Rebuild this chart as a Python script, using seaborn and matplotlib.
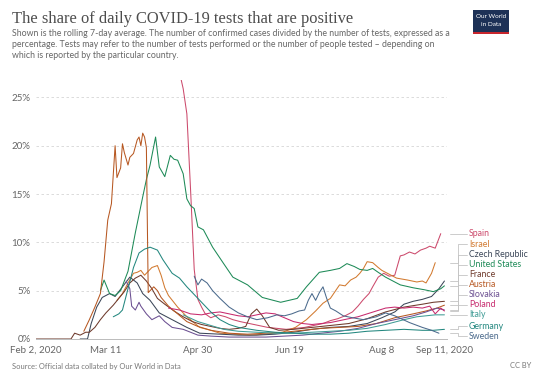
import numpy as np
import pandas as pd
import seaborn as sns
import matplotlib.pyplot as plt
import matplotlib.transforms as mtransforms
from matplotlib.patches import Rectangle

start = pd.Timestamp("2020-02-02")

# share of daily tests that are positive (%)
# days = days since Feb 2, 2020
spain_days = [78, 80, 82, 84, 86, 88, 90, 92, 95, 99, 103, 107, 111, 116, 121, 126, 131, 136, 141, 146,
              151, 156, 160, 164, 168, 172, 175, 178, 181, 183, 186, 189, 192, 195, 198, 200, 203, 206, 209, 212,
              214, 217, 220]
spain_vals = [27.6, 25.9, 23.3, 15.5, 7.2, 4.1, 3.3, 2.6, 2.2, 2.5, 2.3, 2.0, 1.8, 1.6, 1.4, 1.2, 1.1, 1.0, 1.1, 1.2,
              1.4, 1.6, 1.9, 2.1, 2.4, 2.8, 3.4, 4.1, 4.7, 5.4, 6.4, 6.8, 6.5, 6.6, 8.6, 8.7, 9.0, 8.8, 9.2, 9.4,
              9.6, 9.4, 10.9]

israel_days = [44, 47, 50, 53, 55, 57, 59, 61, 63, 66, 68, 70, 72, 77, 82, 89, 95, 100, 108, 116,
               125, 134, 141, 147, 152, 156, 160, 165, 168, 171, 174, 176, 178, 180, 183, 186, 188, 191, 196, 202,
               207, 210, 212, 215, 217]
israel_vals = [4.0, 4.7, 5.8, 6.8, 6.9, 7.1, 6.6, 7.0, 7.4, 7.6, 6.6, 5.3, 4.5, 3.3, 2.3, 1.2, 0.9, 0.6, 0.5, 0.4,
               0.5, 0.7, 1.2, 2.0, 2.9, 3.7, 4.2, 5.6, 5.5, 6.1, 6.4, 6.8, 7.3, 8.0, 7.9, 7.4, 7.1, 6.8, 6.3, 6.1,
               5.9, 6.0, 5.8, 6.8, 7.9]

czech_days = [24, 28, 30, 33, 36, 40, 43, 47, 51, 55, 58, 62, 67, 74, 82, 89, 100, 110, 120, 130,
              140, 150, 160, 170, 180, 188, 195, 200, 205, 210, 215, 219, 222]
czech_vals = [0.0, 0.0, 1.6, 3.3, 4.3, 4.7, 4.4, 5.4, 6.4, 5.8, 4.7, 4.0, 2.7, 2.0, 1.2, 0.6, 0.5, 0.4, 0.4, 0.5,
              0.7, 1.0, 1.2, 1.3, 1.6, 2.2, 2.8, 3.6, 3.9, 4.1, 4.4, 5.2, 6.0]

us_days = [35, 37, 40, 43, 46, 50, 54, 58, 60, 62, 65, 67, 70, 73, 75, 77, 80, 82, 84, 86,
           88, 91, 96, 102, 107, 115, 123, 133, 142, 147, 154, 160, 165, 169, 173, 176, 180, 183, 186, 190,
           198, 205, 211, 216, 220, 222]
us_vals = [5.0, 6.1, 4.7, 4.5, 5.0, 7.0, 11.0, 14.7, 16.5, 18.0, 20.9, 17.8, 16.8, 19.0, 18.6, 18.5, 17.1, 14.5, 13.8, 13.5,
           11.6, 11.3, 9.5, 7.8, 6.4, 5.6, 4.3, 3.8, 4.2, 5.4, 6.9, 7.1, 7.3, 7.8, 7.5, 7.2, 7.1, 7.3, 6.9, 6.4,
           5.6, 5.3, 5.1, 4.9, 5.2, 5.5]

france_days = [0, 19, 21, 24, 27, 29, 32, 35, 38, 42, 45, 48, 51, 54, 57, 60, 63, 66, 70, 75,
               80, 85, 90, 95, 100, 105, 110, 114, 117, 120, 123, 127, 132, 140, 150, 160, 170, 180, 190, 200,
               210, 216, 222]
france_vals = [0.0, 0.0, 0.6, 0.4, 0.7, 0.7, 1.2, 2.0, 2.7, 3.5, 4.2, 4.9, 5.8, 6.3, 6.6, 6.0, 5.2, 4.2, 3.6, 2.9,
               2.3, 1.8, 1.5, 1.3, 1.1, 1.0, 1.1, 1.3, 2.6, 3.1, 2.4, 1.2, 0.9, 1.0, 1.2, 1.4, 1.6, 2.1, 2.8, 3.3,
               3.6, 3.8, 3.9]

austria_days = [26, 29, 32, 35, 37, 39, 41, 43, 44, 46, 47, 48, 50, 51, 53, 55, 56, 57, 58, 59,
                60, 61, 64, 66, 68, 72, 77, 82, 88, 95, 105, 115, 125, 135, 145, 155, 165, 175, 185, 195,
                205, 212, 218, 222]
austria_vals = [0.8, 2.0, 3.3, 4.7, 8.0, 12.3, 14.0, 20.0, 16.7, 17.7, 20.2, 19.3, 18.0, 18.8, 19.2, 20.6, 20.9, 20.0, 21.3, 20.9,
                19.8, 4.8, 5.4, 5.0, 4.3, 3.4, 2.6, 1.8, 1.3, 0.9, 0.6, 0.5, 0.6, 0.7, 0.9, 1.1, 1.2, 1.3, 1.6, 2.2,
                2.6, 2.9, 3.2, 3.5]

slovakia_days = [49, 51, 52, 54, 56, 57, 60, 63, 67, 70, 74, 80, 88, 95, 105, 115, 125, 135, 145, 155,
                 165, 175, 185, 195, 205, 212, 218, 222]
slovakia_vals = [6.0, 5.2, 3.4, 3.0, 3.8, 3.4, 2.6, 2.0, 2.4, 1.8, 1.2, 1.0, 0.4, 0.3, 0.2, 0.2, 0.2, 0.3, 0.4, 0.6,
                 0.8, 1.1, 1.6, 2.0, 2.4, 2.8, 3.2, 3.0]

poland_days = [72, 78, 84, 90, 95, 100, 105, 110, 115, 120, 125, 130, 135, 140, 145, 150, 155, 160, 165, 170,
               175, 180, 185, 190, 195, 200, 205, 210, 214, 217, 220, 222]
poland_vals = [3.2, 3.0, 2.6, 2.5, 2.7, 2.8, 2.6, 2.4, 2.3, 2.5, 2.7, 2.6, 2.2, 1.8, 1.6, 1.5, 1.6, 1.7, 1.9, 2.1,
               2.3, 2.6, 2.9, 3.2, 3.3, 3.2, 3.3, 3.2, 3.4, 2.6, 3.2, 2.9]

italy_days = [80, 88, 95, 102, 110, 120, 130, 140, 150, 160, 170, 180, 190, 200, 207, 212, 217, 222]
italy_vals = [2.5, 1.8, 1.4, 1.0, 0.8, 0.7, 0.6, 0.6, 0.7, 0.8, 0.9, 1.1, 1.5, 2.0, 2.3, 2.4, 2.5, 2.5]

germany_days = [42, 45, 47, 50, 53, 56, 59, 62, 66, 69, 74, 78, 82, 86, 89, 95, 100, 105, 110, 120,
                130, 140, 150, 160, 170, 180, 190, 200, 210, 216, 222]
germany_vals = [2.3, 2.6, 3.0, 5.2, 7.4, 8.9, 9.3, 9.5, 9.2, 8.2, 6.8, 6.3, 5.4, 4.6, 4.0, 2.8, 2.0, 1.5, 1.2, 0.9,
                0.7, 0.6, 0.5, 0.5, 0.6, 0.8, 0.9, 1.0, 0.9, 0.9, 1.0]

sweden_days = [86, 88, 90, 93, 96, 100, 105, 110, 115, 120, 126, 131, 135, 139, 143, 146, 148, 150, 152, 154,
               156, 158, 160, 163, 167, 172, 178, 185, 190, 195, 203, 210, 215, 219]
sweden_vals = [6.5, 5.6, 6.2, 5.8, 5.0, 4.2, 3.3, 2.7, 2.3, 2.0, 2.2, 2.5, 2.4, 2.6, 2.9, 3.0, 4.0, 4.7, 4.0, 4.8,
               5.4, 4.2, 3.2, 2.9, 2.4, 2.2, 2.0, 2.3, 2.7, 2.4, 1.7, 1.2, 0.9, 0.6]

countries = ["Spain", "Israel", "Czech Republic", "United States", "France", "Austria",
             "Slovakia", "Poland", "Italy", "Germany", "Sweden"]
colors = ["#cc4a6c", "#d27a30", "#3b4658", "#1d8a57", "#6e3a2c", "#b75822",
          "#6b4f91", "#c72a6d", "#3f9b95", "#23877f", "#4b6a8c"]
series = {
    "Spain": (spain_days, spain_vals),
    "Israel": (israel_days, israel_vals),
    "Czech Republic": (czech_days, czech_vals),
    "United States": (us_days, us_vals),
    "France": (france_days, france_vals),
    "Austria": (austria_days, austria_vals),
    "Slovakia": (slovakia_days, slovakia_vals),
    "Poland": (poland_days, poland_vals),
    "Italy": (italy_days, italy_vals),
    "Germany": (germany_days, germany_vals),
    "Sweden": (sweden_days, sweden_vals),
}

frames = []
for name, (d, v) in series.items():
    frames.append(pd.DataFrame({"date": start + pd.to_timedelta(d, unit="D"),
                                "value": v, "country": name}))
df = pd.concat(frames, ignore_index=True)

sns.set_theme(style="white")
plt.rcParams["font.family"] = ["Lato", "DejaVu Sans"]

W, H = 543, 385
fig = plt.figure(figsize=(W / 100, H / 100), dpi=100)
ax = fig.add_axes([36 / W, 1 - 339 / H, (447 - 36) / W, (339 - 80) / H])

palette = dict(zip(countries, colors))
sns.lineplot(data=df, x="date", y="value", hue="country", hue_order=countries,
             palette=palette, legend=False, linewidth=0.75, estimator=None, ax=ax)

ax.set_xlim(start, start + pd.Timedelta(days=223.4))
ax.set_ylim(0, 26.8)
ax.set_xlabel("")
ax.set_ylabel("")

yt = [0, 5, 10, 15, 20, 25]
ax.set_yticks(yt)
ax.set_yticklabels([f"{t}%" for t in yt])
for t in yt[1:]:
    ax.axhline(t, color="#d6d6d6", lw=0.6, ls=(0, (3, 3)), zorder=0)

xt = pd.to_datetime(["2020-02-02", "2020-03-11", "2020-04-30", "2020-06-19", "2020-08-08", "2020-09-11"])
ax.set_xticks(xt)
ax.set_xticklabels(["Feb 2, 2020", "Mar 11", "Apr 30", "Jun 19", "Aug 8", "Sep 11, 2020"])

for s in ["top", "right", "left"]:
    ax.spines[s].set_visible(False)
ax.spines["bottom"].set_color("#bbbbbb")
ax.spines["bottom"].set_linewidth(0.7)
ax.tick_params(axis="x", length=3, width=0.6, color="#bbbbbb", pad=2, labelsize=7, labelcolor="#666666")
ax.tick_params(axis="y", length=0, pad=4, labelsize=7, labelcolor="#666666")

# end labels with elbow connectors
ends = {c: series[c][1][-1] for c in countries}
order = sorted(countries, key=lambda c: ends[c])
gap = 1.04
pos = {}
prev = None
for c in order:
    y = max(ends[c] - 0.3, 0.3) if prev is None else max(ends[c], prev + gap)
    pos[c] = y
    prev = y

tr = mtransforms.blended_transform_factory(fig.transFigure, ax.transData)
x0, x1, x2, xl = 450 / W, 458 / W, 467 / W, 469 / W
for c in countries:
    e, p = ends[c], pos[c]
    ax.plot([x0, x1, x1, x2], [e, e, p, p], transform=tr, color="#c4c4c4",
            lw=0.6, clip_on=False)
    ax.text(xl, p, c, transform=tr, fontsize=6.3, color=palette[c], va="center", ha="left")

# header
fig.text(12 / W, 1 - 19 / H, "The share of daily COVID-19 tests that are positive",
         family=["Liberation Serif", "DejaVu Serif"], fontsize=11.9, color="#4d4d4d", va="center")
sub = ["Shown is the rolling 7-day average. The number of confirmed cases divided by the number of tests, expressed as a",
       "percentage. Tests may refer to the number of tests performed or the number of people tested \u2013 depending on",
       "which is reported by the particular country."]
for i, line in enumerate(sub):
    fig.text(12 / W, 1 - (33 + 11.3 * i) / H, line, fontsize=6.35, color="#666666", va="center")

# logo
fig.patches.append(Rectangle((473 / W, 1 - 34 / H), 36 / W, 24 / H, transform=fig.transFigure,
                             facecolor="#1d3156", edgecolor="none"))
fig.patches.append(Rectangle((473 / W, 1 - 34 / H), 36 / W, 2 / H, transform=fig.transFigure,
                             facecolor="#c8262d", edgecolor="none"))
fig.text(491 / W, 1 - 17 / H, "Our World", fontsize=4.6, color="white", ha="center", va="center")
fig.text(491 / W, 1 - 25 / H, "in Data", fontsize=4.6, color="white", ha="center", va="center")

# footer
fig.text(12 / W, 1 - 366 / H, "Source: Official data collated by Our World in Data",
         fontsize=5.4, color="#777777", va="center")
fig.text(531 / W, 1 - 366 / H, "CC BY", fontsize=5.4, color="#777777", va="center", ha="right")

fig.savefig("out.png", dpi=100, facecolor="white")
